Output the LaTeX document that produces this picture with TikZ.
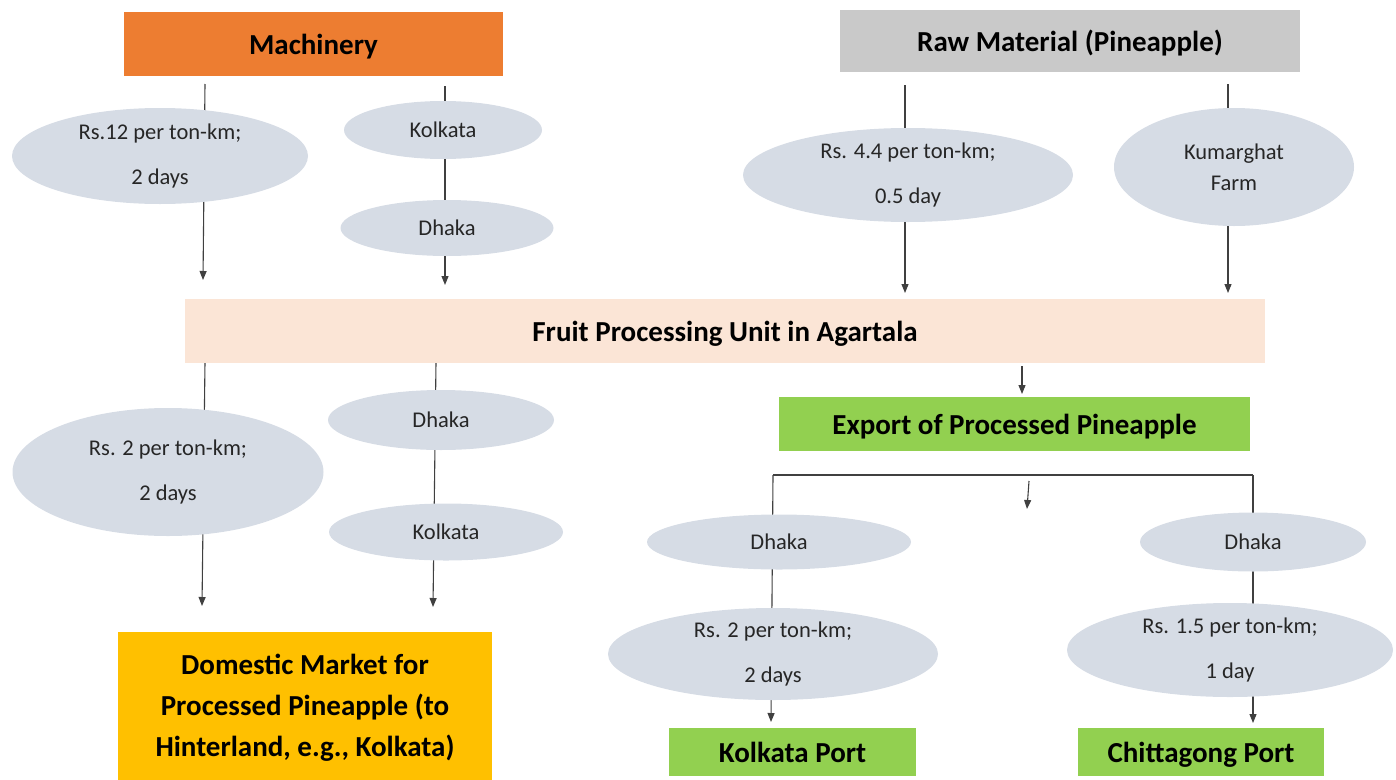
\documentclass[tikz,border=0pt]{standalone}
\usepackage{fontspec}
\setmainfont{Carlito}
\usetikzlibrary{shapes.geometric,arrows.meta}
\definecolor{orangec}{HTML}{ED7D31}
\definecolor{grayc}{HTML}{C9C9C9}
\definecolor{peachc}{HTML}{FBE5D6}
\definecolor{greenc}{HTML}{92D050}
\definecolor{goldc}{HTML}{FFC000}
\definecolor{ellc}{HTML}{D6DCE5}
\definecolor{linec}{HTML}{404040}
\definecolor{txtc}{HTML}{262626}
\pgfdeclarelayer{bg}\pgfsetlayers{bg,main}
\begin{document}
\begin{tikzpicture}[x=1pt,y=-1pt,
  hbox/.style={draw=none,inner sep=0pt,font=\fontsize{29}{41}\selectfont\bfseries,text=black,align=center},
  oneline/.style={text height=20pt,text depth=0pt},
  ell/.style={ellipse,fill=ellc,draw=none,inner sep=0pt,font=\fontsize{22.5}{45}\selectfont,text=txtc,align=center},
  conn/.style={draw=linec,line width=1.1pt},
  arr/.style={conn,-{Triangle[length=9pt,width=7pt]}}]
\useasboundingbox (0,0) rectangle (1396,779);
% boxes
\node[hbox,oneline,fill=orangec,minimum width=379pt,minimum height=64pt] (mach) at (313.5,44) {Machinery};
\node[hbox,oneline,fill=grayc,minimum width=460pt,minimum height=62pt] (raw) at (1070,41) {Raw Material (Pineapple)};
\node[hbox,oneline,fill=peachc,minimum width=1080pt,minimum height=64pt] (fpu) at (725,331) {Fruit Processing Unit in Agartala};
\node[hbox,oneline,fill=greenc,minimum width=471pt,minimum height=54pt] (exp) at (1014.5,424) {Export of Processed Pineapple};
\node[hbox,oneline,fill=greenc,minimum width=247pt,minimum height=48pt] (kport) at (792.5,752) {Kolkata Port};
\node[hbox,oneline,fill=greenc,minimum width=246pt,minimum height=48pt] (cport) at (1201,752) {Chittagong Port};
\node[hbox,fill=goldc,minimum width=374pt,minimum height=152pt] (dom) at (305,708) {Domestic Market for\\Processed Pineapple (to\\Hinterland, e.g., Kolkata)};
% ellipses
\node[ell,minimum width=296pt,minimum height=96pt] (e1) at (160,156) {Rs.12 per ton-km;\\2 days};
\node[ell,minimum width=198pt,minimum height=58pt] (e2) at (443,130) {Kolkata};
\node[ell,minimum width=213pt,minimum height=56pt] (e3) at (447,228) {Dhaka};
\node[ell,minimum width=330pt,minimum height=94pt] (e4) at (908,175) {Rs. 4.4 per ton-km;\\0.5 day};
\node[ell,minimum width=240pt,minimum height=118pt,font=\fontsize{22.5}{31}\selectfont] (e5) at (1234,167) {Kumarghat\\Farm};
\node[ell,minimum width=311pt,minimum height=128pt] (e6) at (168,472) {Rs. 2 per ton-km;\\2 days};
\node[ell,minimum width=226pt,minimum height=60pt] (e7) at (441,420) {Dhaka};
\node[ell,minimum width=234pt,minimum height=57pt] (e8) at (446,532) {Kolkata};
\node[ell,minimum width=264pt,minimum height=55pt] (e9) at (779,542) {Dhaka};
\node[ell,minimum width=330pt,minimum height=92pt] (e10) at (773,654) {Rs. 2 per ton-km;\\2 days};
\node[ell,minimum width=226pt,minimum height=59pt] (e11) at (1253,542) {Dhaka};
\node[ell,minimum width=326pt,minimum height=94pt] (e12) at (1230,650) {Rs. 1.5 per ton-km;\\1 day};
% connector end points
\coordinate (m1s) at (205,84);   \coordinate (m1e) at (203,280);
\coordinate (m2s) at (445,86);   \coordinate (m2e) at (445,285);
\coordinate (r1s) at (905,85);   \coordinate (r1e) at (905,293);
\coordinate (r2s) at (1228,84);  \coordinate (r2e) at (1228,293);
\coordinate (f1s) at (205,362);  \coordinate (f1e) at (202,606);
\coordinate (f2s) at (436,362);  \coordinate (f2e) at (433,607);
\coordinate (f3s) at (1022,366); \coordinate (f3e) at (1022,394);
\coordinate (bl) at (773,475);   \coordinate (br) at (1253,475);
\coordinate (ble) at (771,722);  \coordinate (bre) at (1253,723);
\coordinate (cs) at (1029,481);  \coordinate (ce) at (1027,509);
\begin{pgfonlayer}{bg}
\draw[arr] (m1s) -- (m1e);
\draw[arr] (m2s) -- (m2e);
\draw[arr] (r1s) -- (r1e);
\draw[arr] (r2s) -- (r2e);
\draw[arr] (f1s) -- (f1e);
\draw[arr] (f2s) -- (f2e);
\draw[arr] (f3s) -- (f3e);
\draw[conn] (bl) -- (br);
\draw[arr] (bl) -- (ble);
\draw[arr] (br) -- (bre);
\draw[arr] (cs) -- (ce);
\end{pgfonlayer}
\end{tikzpicture}
\end{document}
